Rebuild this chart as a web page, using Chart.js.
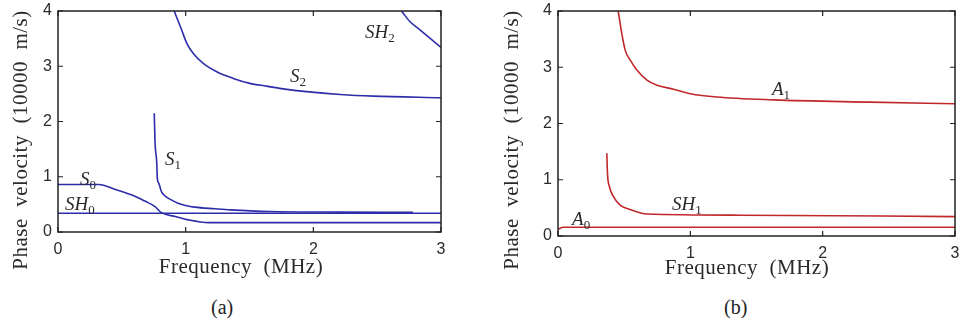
<!DOCTYPE html>
<html>
<head>
<meta charset="utf-8">
<script src="https://cdn.jsdelivr.net/npm/chart.js@4.4.1/dist/chart.umd.min.js"></script>
<style>
  body { margin: 0; background: #fff; }
  #wrap { position: relative; width: 968px; height: 326px; overflow: hidden; }
  .panel { position: absolute; top: 0; height: 290px; }
  .cap { position: absolute; top: 296px; font: 20px "Liberation Serif", serif; color: #222; }
</style>
</head>
<body>
<div id="wrap">
  <div class="panel" style="left:0;width:490px"><canvas id="chartA"></canvas></div>
  <div class="panel" style="left:490px;width:478px"><canvas id="chartB"></canvas></div>
  <div class="cap" style="left:211px">(a)</div>
  <div class="cap" style="left:724px">(b)</div>
</div>
<script>
// axes
const freqTicks = [0, 1, 2, 3];
const velTicks = [0, 1, 2, 3, 4];

// panel (a) - symmetric + SH modes
const s0Freq = [0, 0.32, 0.45, 0.58, 0.68, 0.76, 0.81, 0.92, 1.02, 1.18, 3.0];
const s0Vel  = [0.86, 0.86, 0.77, 0.67, 0.56, 0.46, 0.35, 0.28, 0.22, 0.17, 0.17];
const sh0Freq = [0, 3.0];
const sh0Vel  = [0.34, 0.34];
const s1Freq = [0.754, 0.76, 0.773, 0.778, 0.79, 0.81, 0.84, 0.88, 0.94, 1.0, 1.07, 1.23, 1.35, 1.66, 2.2, 2.78];
const s1Vel  = [2.15, 1.63, 1.27, 0.97, 0.88, 0.73, 0.65, 0.59, 0.52, 0.48, 0.45, 0.42, 0.40, 0.37, 0.36, 0.355];
const s2Freq = [0.91, 0.968, 1.008, 1.06, 1.138, 1.243, 1.373, 1.503, 1.634, 1.764, 1.947, 2.21, 2.47, 3.0];
const s2Vel  = [4.0, 3.66, 3.42, 3.23, 3.05, 2.90, 2.78, 2.69, 2.64, 2.59, 2.54, 2.49, 2.46, 2.43];
const sh2Freq = [2.69, 2.756, 2.835, 2.913, 3.0];
const sh2Vel  = [4.0, 3.81, 3.66, 3.51, 3.34];

// panel (b) - antisymmetric + SH1
const a0Freq = [0, 0.04, 3.0];
const a0Vel  = [0.12, 0.155, 0.155];
const sh1Freq = [0.369, 0.374, 0.389, 0.419, 0.47, 0.545, 0.672, 1.38, 3.0];
const sh1Vel  = [1.47, 1.11, 0.875, 0.70, 0.55, 0.47, 0.39, 0.37, 0.345];
const a1Freq = [0.455, 0.482, 0.508, 0.545, 0.596, 0.672, 0.748, 0.873, 1.0, 1.2, 1.63, 2.36, 3.0];
const a1Vel  = [4.0, 3.60, 3.30, 3.13, 2.95, 2.77, 2.68, 2.61, 2.53, 2.47, 2.42, 2.38, 2.35];

// curve labels, anchored in data units (left edge, baseline)
const labelsA = [
  { name: 'S', sub: '0', f: 0.172, v: 0.85 },
  { name: 'SH', sub: '0', f: 0.055, v: 0.40 },
  { name: 'S', sub: '1', f: 0.838, v: 1.21 },
  { name: 'S', sub: '2', f: 1.817, v: 2.71 },
  { name: 'SH', sub: '2', f: 2.405, v: 3.51 }
];
const labelsB = [
  { name: 'A', sub: '1', f: 1.617, v: 2.50 },
  { name: 'SH', sub: '1', f: 0.862, v: 0.46 },
  { name: 'A', sub: '0', f: 0.106, v: 0.195 }
];

const BLUE = '#2d2daa';
const RED = '#c0282c';
const TEXT = '#2a2a2a';

const toPoints = (xs, ys) => xs.map((x, i) => ({ x, y: ys[i] }));

const line = (xs, ys, color) => ({
  data: toPoints(xs, ys),
  borderColor: color,
  borderWidth: 1.6,
  pointRadius: 0,
  showLine: true,
  cubicInterpolationMode: 'monotone',
  fill: false
});

// box, inward ticks, curve labels and axis titles
const framePlugin = {
  id: 'frame',
  afterDatasetsDraw(chart, args, opts) {
    const { ctx, chartArea: a, scales: { x, y } } = chart;
    ctx.save();
    ctx.strokeStyle = '#222';
    ctx.lineWidth = 1.5;
    ctx.strokeRect(a.left, a.top, a.right - a.left, a.bottom - a.top);
    ctx.lineWidth = 1.2;
    ctx.beginPath();
    x.ticks.forEach(t => {
      const px = x.getPixelForValue(t.value);
      ctx.moveTo(px, a.bottom); ctx.lineTo(px, a.bottom - 5);
      ctx.moveTo(px, a.top); ctx.lineTo(px, a.top + 5);
    });
    y.ticks.forEach(t => {
      const py = y.getPixelForValue(t.value);
      ctx.moveTo(a.left, py); ctx.lineTo(a.left + 5, py);
      ctx.moveTo(a.right, py); ctx.lineTo(a.right - 5, py);
    });
    ctx.stroke();

    ctx.fillStyle = TEXT;
    ctx.textBaseline = 'alphabetic';
    ctx.textAlign = 'left';
    opts.labels.forEach(l => {
      const px = x.getPixelForValue(l.f);
      const py = y.getPixelForValue(l.v);
      ctx.font = 'italic 19px "Liberation Serif", serif';
      ctx.fillText(l.name, px, py);
      const w = ctx.measureText(l.name).width;
      ctx.font = '13px "Liberation Serif", serif';
      ctx.fillText(l.sub, px + w, py + 4);
    });

    ctx.font = '21px "Liberation Serif", serif';
    ctx.textAlign = 'center';
    ctx.textBaseline = 'middle';
    ctx.letterSpacing = '0.5px';
    ctx.fillText('Frequency  (MHz)', opts.xTitle[0], opts.xTitle[1]);
    ctx.translate(opts.yTitle[0], opts.yTitle[1]);
    ctx.rotate(-Math.PI / 2);
    ctx.fillText('Phase  velocity  (10000  m/s)', 0, 0);
    ctx.restore();
  }
};

const makeChart = (id, datasets, box, plugOpts) => new Chart(document.getElementById(id), {
  type: 'scatter',
  data: { datasets },
  options: {
    responsive: true,
    maintainAspectRatio: false,
    animation: false,
    layout: { padding: { top: box.top, right: box.right, left: 0, bottom: 0 } },
    plugins: { legend: { display: false }, tooltip: { enabled: false }, frame: plugOpts },
    scales: {
      x: {
        type: 'linear', min: 0, max: 3,
        afterBuildTicks: s => { s.ticks = freqTicks.map(v => ({ value: v })); },
        ticks: { font: { family: '"Liberation Sans", Arial, sans-serif', size: 16 }, color: TEXT, padding: box.xPad, maxRotation: 0 },
        grid: { display: false, drawTicks: false },
        border: { display: false },
        afterFit: s => { s.height = box.xHeight; s.paddingLeft = 0; s.paddingRight = 0; }
      },
      y: {
        type: 'linear', min: 0, max: 4,
        afterBuildTicks: s => { s.ticks = velTicks.map(v => ({ value: v })); },
        ticks: { font: { family: '"Liberation Sans", Arial, sans-serif', size: 16 }, color: TEXT, padding: 6 },
        grid: { display: false, drawTicks: false },
        border: { display: false },
        afterFit: s => { s.width = box.yWidth; s.paddingTop = 0; s.paddingBottom = 0; }
      }
    }
  },
  plugins: [framePlugin]
});

makeChart('chartA', [
  line(s0Freq, s0Vel, BLUE),
  line(sh0Freq, sh0Vel, BLUE),
  line(s1Freq, s1Vel, BLUE),
  line(s2Freq, s2Vel, BLUE),
  line(sh2Freq, sh2Vel, BLUE)
], { top: 11, right: 49, yWidth: 58, xHeight: 58, xPad: 8 },
   { labels: labelsA, xTitle: [241, 267], yTitle: [21, 140] });

makeChart('chartB', [
  line(a0Freq, a0Vel, RED),
  line(sh1Freq, sh1Vel, RED),
  line(a1Freq, a1Vel, RED)
], { top: 11, right: 13, yWidth: 68, xHeight: 54, xPad: 8 },
   { labels: labelsB, xTitle: [257, 268], yTitle: [22, 140] });
</script>
</body>
</html>
